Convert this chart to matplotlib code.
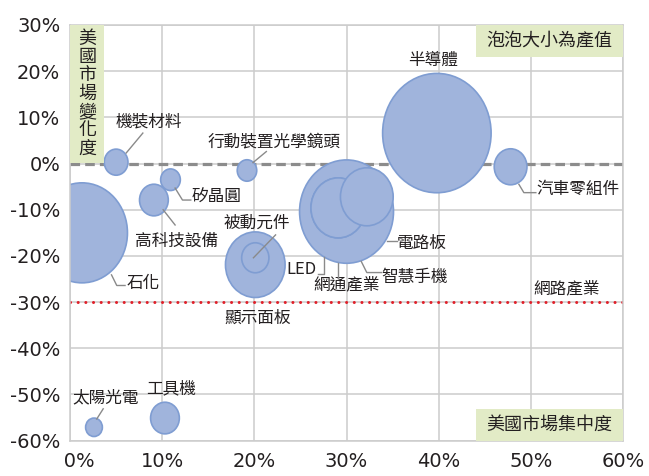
import numpy as np
import matplotlib.pyplot as plt
from matplotlib.path import Path
from matplotlib.transforms import Affine2D
from matplotlib.patches import Rectangle
from matplotlib.ticker import FuncFormatter, MultipleLocator

plt.rcParams['font.family'] = ['Noto Sans CJK TC', 'DejaVu Sans']

# x: 美國市場集中度 (%), y: 美國市場變化度 (%), 泡泡大小為產值
industries = ['石化', '半導體', '智慧手機', '顯示面板', '網通產業', 'LED', '電路板',
              '汽車零組件', '高科技設備', '工具機', '被動元件', '機裝材料', '矽晶圓',
              '行動裝置光學鏡頭', '太陽光電']
concentration = [1.3, 39.8, 30.0, 20.1, 29.1, 29.1, 32.2, 47.8, 9.1, 10.3, 20.1,
                 5.0, 10.9, 19.2, 2.6]
change = [-15.0, 6.6, -10.4, -21.9, -9.6, -9.6, -7.2, -0.7, -7.9, -55.1, -20.4,
          0.3, -3.5, -1.5, -57.1]
output_value = [2500, 3560, 2670, 1075, 900, 900, 841, 324, 250, 250, 225,
                170, 117, 115, 85]

us_change_ref = 0       # 灰色虛線
network_ref = -30       # 網路產業 (紅色點線)

# label positions (data coords) and leader lines
label_pos = {
    '石化': (7.95, -25.9), '半導體': (39.4, 22.4), '智慧手機': (37.4, -24.6),
    '顯示面板': (20.4, -33.5), '網通產業': (30.0, -26.3), 'LED': (25.1, -22.9),
    '電路板': (38.1, -17.3), '汽車零組件': (55.1, -5.7), '高科技設備': (11.6, -16.75),
    '工具機': (11.0, -48.85), '被動元件': (20.25, -12.9), '機裝材料': (8.5, 9.1),
    '矽晶圓': (15.9, -7.2), '行動裝置光學鏡頭': (22.1, 4.7), '太陽光電': (3.9, -50.8),
}
leaders = {
    '石化': [(4.5, -24.1), (5.07, -26.4), (5.97, -26.4)],
    '智慧手機': [(31.6, -21.2), (32.2, -23.6), (33.8, -23.6)],
    '網通產業': [(29.1, -21.5), (29.1, -24.5)],
    'LED': [(26.9, -23.9), (27.55, -23.9), (27.55, -20.15)],
    '電路板': [(34.35, -16.75), (35.43, -16.75)],
    '汽車零組件': [(48.7, -4.5), (49.24, -6.3), (50.54, -6.3)],
    '高科技設備': [(10.1, -10.0), (11.4, -13.3)],
    '被動元件': [(22.3, -15.45), (19.9, -20.4)],
    '機裝材料': [(7.9, 6.6), (6.1, 2.3)],
    '矽晶圓': [(11.4, -5.3), (12.2, -7.9), (13.1, -7.9)],
    '行動裝置光學鏡頭': [(21.3, 2.6), (19.85, 0.2)],
    '太陽光電': [(3.6, -53.1), (2.9, -55.3)],
}

dpi = 100
fig = plt.figure(figsize=(6.49, 4.76), dpi=dpi)
ax = fig.add_axes([0.1079, 0.0742, 0.8521, 0.8733])

ax.set_xlim(0, 60)
ax.set_ylim(-60, 30)
ax.xaxis.set_major_locator(MultipleLocator(10))
ax.yaxis.set_major_locator(MultipleLocator(10))
# the 0% label on the x axis sits a bit to the right in the original
ax.xaxis.set_major_formatter(FuncFormatter(lambda v, p: '   0%' if v == 0 else f'{v:.0f}%'))
ax.yaxis.set_major_formatter(FuncFormatter(lambda v, p: f'{v:.0f}%'))
ax.tick_params(length=0, labelsize=14, colors='#231f20')
ax.tick_params(axis='x', pad=8)
ax.tick_params(axis='y', pad=7)
for lab in ax.get_xticklabels() + ax.get_yticklabels():
    lab.set_fontfamily('DejaVu Sans')
ax.grid(True, color='#cccccc', lw=1.1, zorder=0)
ax.set_axisbelow(True)
for s in ax.spines.values():
    s.set_color('#cccccc')
    s.set_linewidth(1.1)

ax.axhline(us_change_ref, color='#8c8c8c', lw=2.3, ls=(0, (3.0, 1.6)), zorder=1)
ax.axhline(network_ref, color='#e0202a', lw=2.2, ls=(0, (0.01, 2.5)),
           dash_capstyle='round', zorder=1)

# slightly tall oval marker, like the original
circ = Path.unit_circle()
oval = Path(Affine2D().scale(1, 1.1).transform(circ.vertices), circ.codes)

order = np.argsort(output_value)[::-1]
xs = np.array(concentration)[order]
ys = np.array(change)[order]
sz = np.array(output_value)[order] * (144 / dpi) ** 2
ax.scatter(xs, ys, s=sz, marker=oval, facecolor='#a0b4dc', edgecolor='#7f9dd2',
           linewidth=1.2, zorder=2)

for name in industries:
    tx, ty = label_pos[name]
    ax.text(tx, ty, name, ha='center', va='center', fontsize=12, color='#231f20', zorder=4)
    if name in leaders:
        px, py = zip(*leaders[name])
        ax.plot(px, py, color='#8a8a8a', lw=1.0, zorder=4)

ax.text(53.9, -27.2, '網路產業', ha='center', va='center', fontsize=12,
        color='#231f20', zorder=4)

# green note boxes
box_c = '#e2ebc6'
ax.add_patch(Rectangle((0.734, 0.923), 0.266, 0.077, transform=ax.transAxes,
                       facecolor=box_c, edgecolor='none', zorder=3))
ax.text(0.867, 0.9615, '泡泡大小為產值', transform=ax.transAxes, ha='center',
        va='center', fontsize=13, color='#231f20', zorder=4)
ax.add_patch(Rectangle((0.734, 0.0), 0.266, 0.0763, transform=ax.transAxes,
                       facecolor=box_c, edgecolor='none', zorder=3))
ax.text(0.867, 0.038, '美國市場集中度', transform=ax.transAxes, ha='center',
        va='center', fontsize=13, color='#231f20', zorder=4)
ax.add_patch(Rectangle((0.0, 0.667), 0.0615, 0.333, transform=ax.transAxes,
                       facecolor=box_c, edgecolor='none', zorder=3))
ax.text(0.031, 0.835, '\n'.join('美國市場變化度'), transform=ax.transAxes,
        ha='center', va='center', fontsize=13, linespacing=1.02,
        color='#231f20', zorder=4)

fig.savefig('out.png', dpi=dpi)
